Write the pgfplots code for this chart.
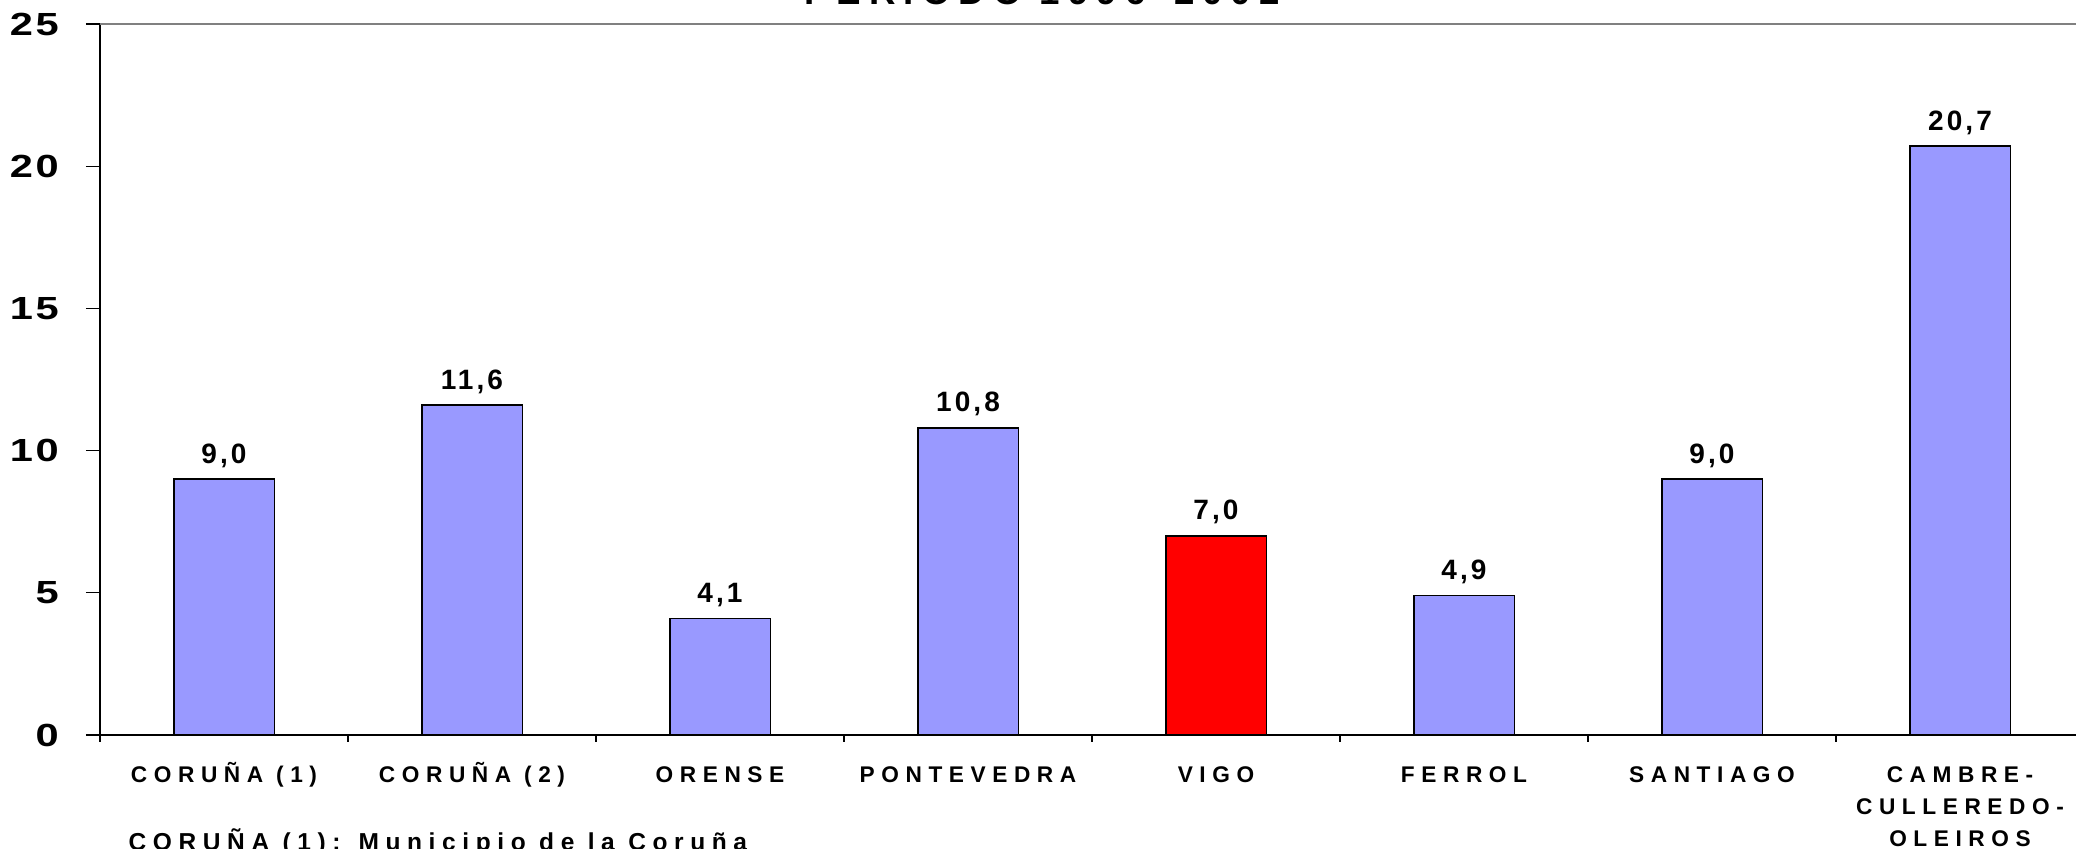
\documentclass[border=0pt]{standalone}
\usepackage{fontspec}
\setmainfont{Liberation Sans}
\usepackage{pgfplots}
\pgfplotsset{compat=1.18}
\definecolor{barblue}{RGB}{153,153,255}
\pgfkeys{/pgf/number format/assume math mode=true}
\newcommand\ytf{\fontsize{9.6}{11}\selectfont\bfseries\addfontfeature{FakeStretch=1.3,LetterSpace=8}}
\newcommand\xtf{\fontsize{6.8}{9.6}\selectfont\bfseries\addfontfeature{LetterSpace=29}}
\newcommand\vtf{\fontsize{8.4}{10}\selectfont\bfseries\addfontfeature{LetterSpace=11}}
\newcommand\ttf{\fontsize{11}{13}\selectfont\bfseries\addfontfeature{LetterSpace=22}}
\newcommand\ftf{\fontsize{7.35}{9}\selectfont\bfseries\addfontfeature{LetterSpace=27}}

\begin{document}
\begin{tikzpicture}
\useasboundingbox (-30pt,-33.9pt) rectangle (592.8pt,220.5pt);
\clip (-30pt,-33.9pt) rectangle (592.8pt,220.5pt);
\begin{axis}[
  at={(0,0)}, anchor=south west,
  scale only axis, width=595.2pt, height=213.3pt,
  xmin=-0.5, xmax=7.5, ymin=0, ymax=25,
  axis lines=left,
  axis line style={-, black, line width=0.5pt},
  ytick={0,5,...,25},
  xtick={0,...,7},
  xticklabels={CORUÑA (1),CORUÑA (2),ORENSE,PONTEVEDRA,VIGO,FERROL,SANTIAGO,{\begin{tabular}[t]{@{}c@{}}CAMBRE-\\CULLEREDO-\\OLEIROS\end{tabular}}},
  minor xtick={-0.5,0.5,...,7.5},
  major x tick style={draw=none},
  minor x tick style={black, line width=0.4pt},
  y tick style={black, line width=0.4pt},
  tick align=outside,
  major tick length=4.2pt,
  minor tick length=2pt,
  yticklabel style={font=\ytf, anchor=east, inner sep=0pt, xshift=-8pt},
  xticklabel style={font=\xtf, anchor=north, inner sep=0pt, text height=4.9pt, yshift=-4.8pt},
  ybar, bar width=30.2pt, bar shift=0pt,
  nodes near coords={\pgfmathprintnumber[fixed,fixed zerofill,precision=1,use comma,assume math mode=true]{\pgfplotspointmeta}},
  every node near coord/.append style={font=\vtf, anchor=base, inner sep=0pt, yshift=4.8pt, black},
]
\addplot[fill=barblue, draw=black, line width=0.5pt] coordinates {(0,9.0) (1,11.6) (2,4.1) (3,10.8) (5,4.9) (6,9.0) (7,20.7)};
\addplot[fill=red, draw=black, line width=0.5pt] coordinates {(4,7.0)};
\draw[gray, line width=0.6pt] (rel axis cs:0,1) -- (rel axis cs:1,1);
\end{axis}
\node[anchor=base, inner sep=0pt, font=\ttf] at (282.6pt,219pt) {PERIODO 1996-2002};
\node[anchor=base west, inner sep=0pt, font=\ftf] at (8.4pt,-34.6pt) {CORUÑA (1): Municipio de la Coruña};
\end{tikzpicture}
\end{document}
